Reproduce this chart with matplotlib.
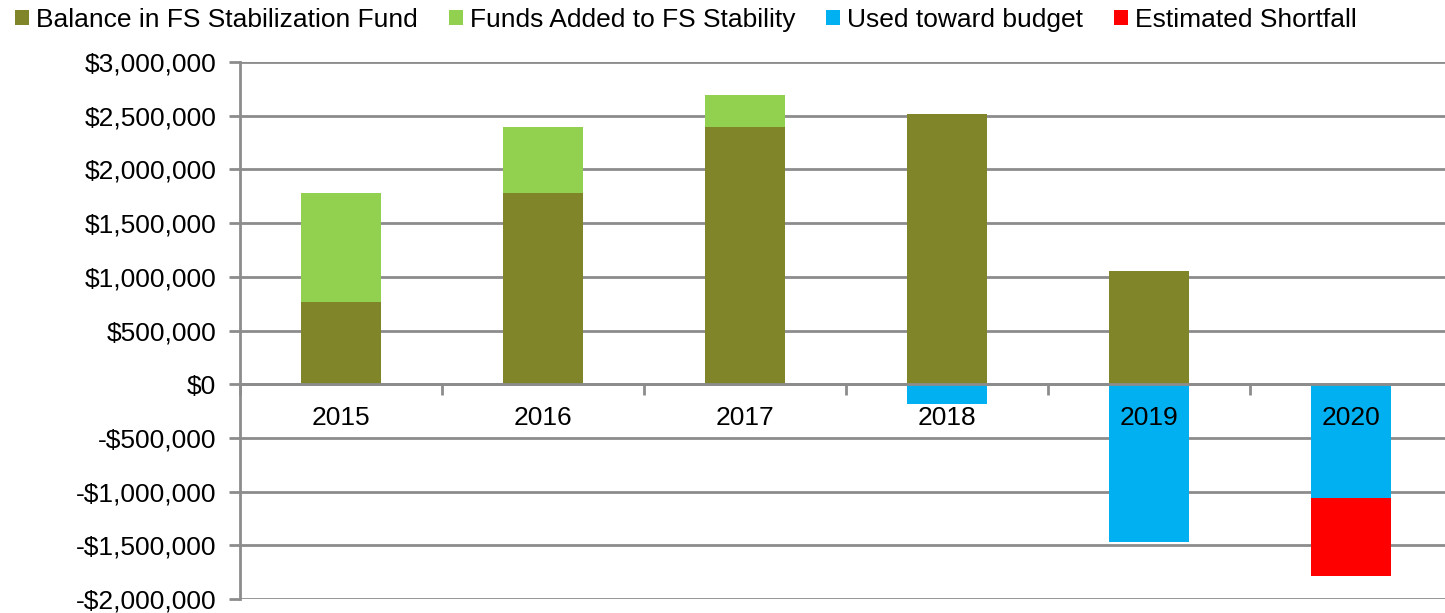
import matplotlib.pyplot as plt
from matplotlib.ticker import FuncFormatter, FixedLocator
import numpy as np

plt.rcParams['font.family'] = ['Liberation Sans', 'DejaVu Sans']

# data
years = ["2015", "2016", "2017", "2018", "2019", "2020"]
balance = [768000, 1780000, 2397000, 2516000, 1054000, 0]
added = [1015000, 617000, 298000, 0, 0, 0]
used = [0, 0, 0, -184000, -1467000, -1057000]
shortfall = [0, 0, 0, 0, 0, -726000]

c_balance = "#808529"
c_added = "#92d050"
c_used = "#00b0f0"
c_short = "#ff0000"
grid_c = "#8c8c8c"

fig = plt.figure(figsize=(14.45, 6.13), dpi=100)
ax = fig.add_axes([240/1445, 14/613, 1212/1445, 537/613])

x = np.arange(len(years))
w = 0.4
b1 = ax.bar(x, balance, w, color=c_balance, label="Balance in FS Stabilization Fund", zorder=1)
b2 = ax.bar(x, added, w, bottom=balance, color=c_added, label="Funds Added to FS Stability", zorder=1)
b3 = ax.bar(x, used, w, color=c_used, label="Used toward budget", zorder=1)
b4 = ax.bar(x, shortfall, w, bottom=used, color=c_short, label="Estimated Shortfall", zorder=1)

ax.set_xlim(-0.5, len(years) - 0.5)
ax.set_ylim(-2000000, 3000000)
ax.set_yticks(np.arange(-2000000, 3000001, 500000))

def money(v, pos):
    v = int(round(v))
    if v < 0:
        return "-${:,}".format(-v)
    return "${:,}".format(v)

ax.yaxis.set_major_formatter(FuncFormatter(money))

# gridlines behind the bars, year labels stay on top
for yv in ax.get_yticks():
    ax.axhline(yv, color=grid_c, linewidth=2, zorder=0)

for s in ['top', 'right']:
    ax.spines[s].set_visible(False)
ax.spines['left'].set_color(grid_c)
ax.spines['left'].set_linewidth(2)
ax.spines['bottom'].set_position(('data', 0))
ax.spines['bottom'].set_color(grid_c)
ax.spines['bottom'].set_linewidth(2)

ax.set_xticks(x)
ax.set_xticklabels(years)
ax.xaxis.set_minor_locator(FixedLocator(np.arange(-0.5, len(years), 1.0)))
ax.tick_params(axis='x', which='major', length=0, pad=16, labelsize=19)
ax.tick_params(axis='x', which='minor', length=8, width=2, color=grid_c, direction='out')
ax.tick_params(axis='y', length=8, width=2, color=grid_c, labelsize=19, pad=9)

fig.legend(handles=[b1, b2, b3, b4], loc='center left', bbox_to_anchor=(15/1445, 1 - 20/613),
           ncol=4, frameon=False, fontsize=19, handlelength=0.53, handleheight=0.53,
           handletextpad=0.27, columnspacing=1.17, borderpad=0, borderaxespad=0)

fig.savefig("out.png", dpi=100)
